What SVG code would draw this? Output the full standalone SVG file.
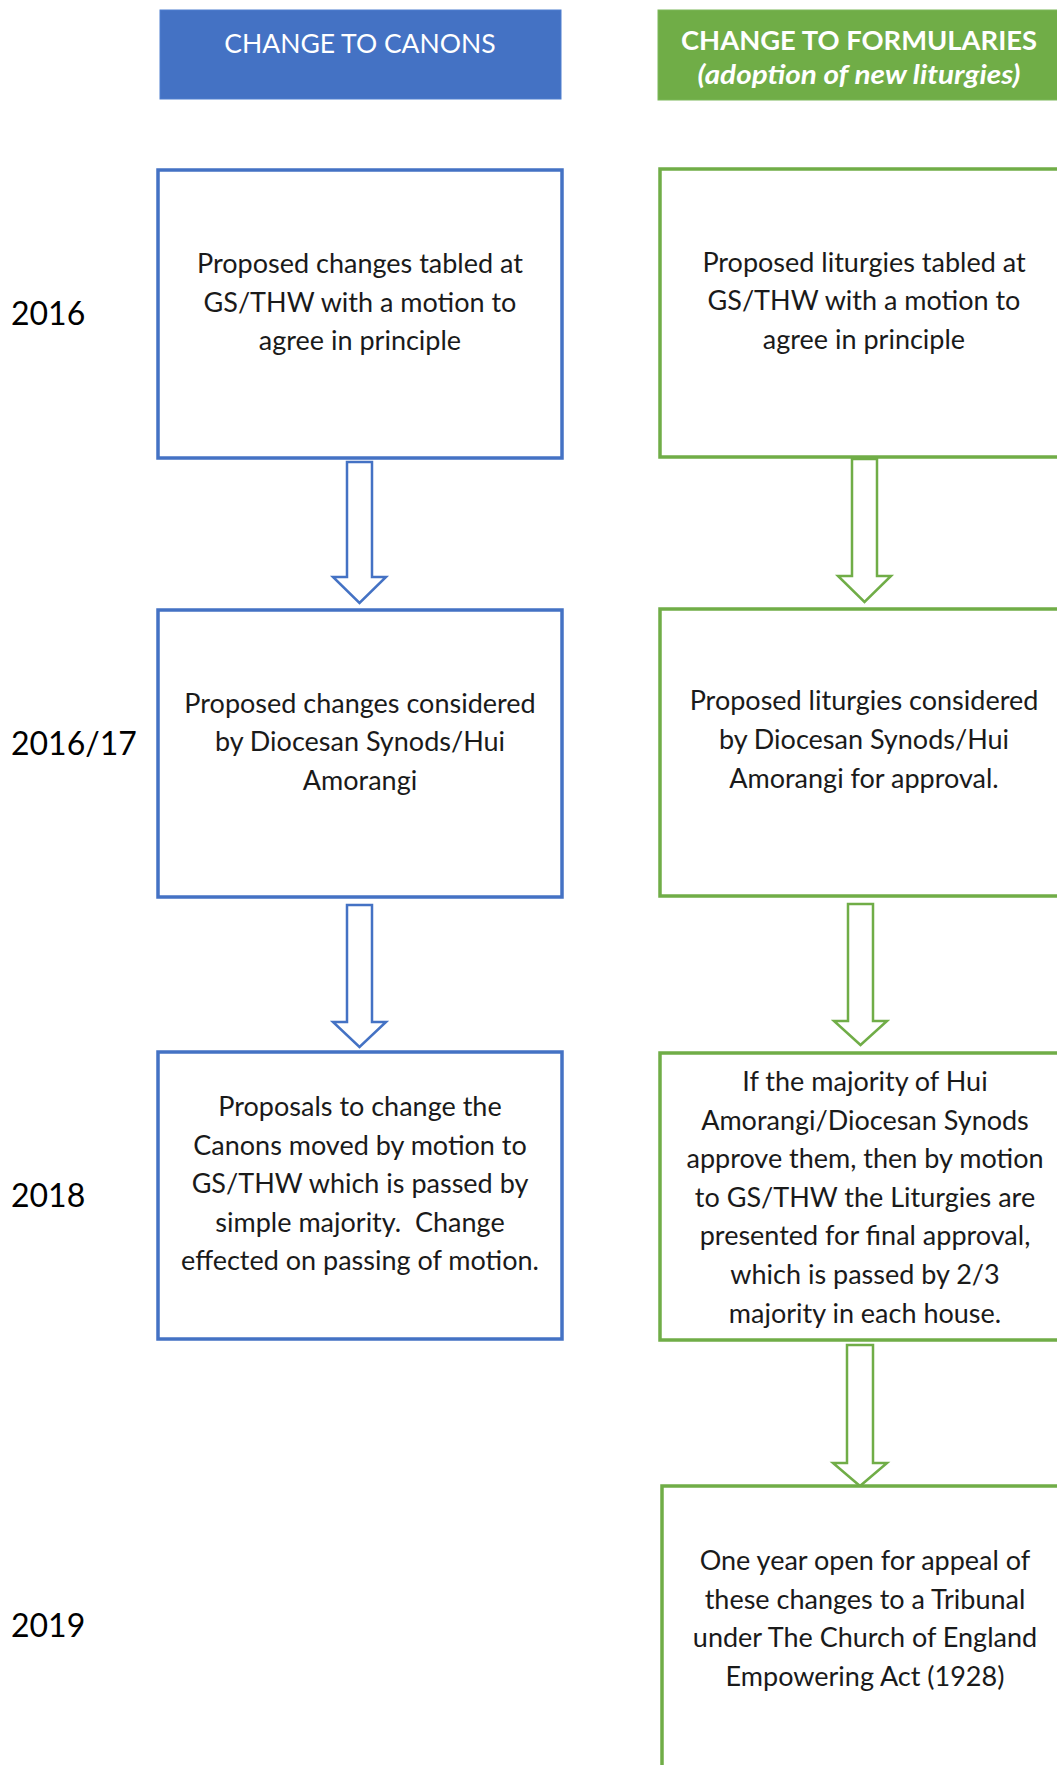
<svg xmlns="http://www.w3.org/2000/svg" width="1057" height="1765" viewBox="0 0 1057 1765">
<style>
.hdrB{fill:#4472C4;stroke:#4F7FCF;stroke-width:1}
.hdrG{fill:#70AD47;stroke:#7DB85A;stroke-width:1}
.htxt{font-family:Lato,"Open Sans",sans-serif;fill:#fff;text-anchor:middle}
.boxB{fill:#fff;stroke:#4472C4;stroke-width:3.5}
.boxG{fill:#fff;stroke:#70AD47;stroke-width:3.5}
.arrB{fill:#fff;stroke:#4472C4;stroke-width:2.5;stroke-linejoin:miter}
.arrG{fill:#fff;stroke:#70AD47;stroke-width:2.5;stroke-linejoin:miter}
.t{font-family:Lato,"Open Sans",sans-serif;font-size:27px;fill:#1a1a1a;text-anchor:middle}
.yr{font-family:Lato,"Open Sans",sans-serif;font-size:32px;fill:#000}
</style>
<g id="header-canons">
<rect class="hdrB" x="160" y="10" width="401" height="89"/>
<text class="htxt" x="360" y="53" font-size="26.5">CHANGE TO CANONS</text>
</g>
<g id="header-formularies">
<rect class="hdrG" x="658" y="10" width="401" height="90"/>
<text class="htxt" x="859" y="50" font-size="26" font-weight="bold" textLength="356" lengthAdjust="spacingAndGlyphs">CHANGE TO FORMULARIES</text>
<text class="htxt" x="859" y="84" font-size="27" font-weight="bold" font-style="italic" textLength="323" lengthAdjust="spacingAndGlyphs">(adoption of new liturgies)</text>
</g>
<g id="years">
<text class="yr" x="11" y="325">2016</text>
<text class="yr" x="11" y="755">2016/17</text>
<text class="yr" x="11" y="1207">2018</text>
<text class="yr" x="11" y="1637">2019</text>
</g>
<g id="connectors">
<path class="arrB" d="M347,462 H372 V577 H386 L359.5,603 L333,577 H347 Z"/>
<path class="arrB" d="M347,905 H372 V1022 H386 L359.5,1047 L333,1022 H347 Z"/>
<path class="arrG" d="M852,459 H877 V576 H891 L864.5,602 L838,576 H852 Z"/>
<path class="arrG" d="M848,904 H873 V1021 H887 L860.5,1045 L834,1021 H848 Z"/>
<path class="arrG" d="M847,1345 H873 V1463 H887 L860,1486 L833,1463 H847 Z"/>
</g>
<g id="canons-1">
<rect class="boxB" x="158" y="170" width="404" height="288"/>
<text class="t" x="360" y="273">Proposed changes tabled at</text>
<text class="t" x="360" y="312">GS/THW with a motion to</text>
<text class="t" x="360" y="350">agree in principle</text>
</g>
<g id="canons-2">
<rect class="boxB" x="158" y="610" width="404" height="287"/>
<text class="t" x="360" y="713">Proposed changes considered</text>
<text class="t" x="360" y="751">by Diocesan Synods/Hui</text>
<text class="t" x="360" y="790">Amorangi</text>
</g>
<g id="canons-3">
<rect class="boxB" x="158" y="1052" width="404" height="287"/>
<text class="t" x="360" y="1116">Proposals to change the</text>
<text class="t" x="360" y="1155">Canons moved by motion to</text>
<text class="t" x="360" y="1193">GS/THW which is passed by</text>
<text class="t" x="360" y="1232" xml:space="preserve">simple majority.  Change</text>
<text class="t" x="360" y="1270">effected on passing of motion.</text>
</g>
<g id="formularies-1">
<rect class="boxG" x="660" y="169" width="408" height="288"/>
<text class="t" x="864" y="272">Proposed liturgies tabled at</text>
<text class="t" x="864" y="310">GS/THW with a motion to</text>
<text class="t" x="864" y="349">agree in principle</text>
</g>
<g id="formularies-2">
<rect class="boxG" x="660" y="609" width="408" height="287"/>
<text class="t" x="864" y="710">Proposed liturgies considered</text>
<text class="t" x="864" y="749">by Diocesan Synods/Hui</text>
<text class="t" x="864" y="788">Amorangi for approval.</text>
</g>
<g id="formularies-3">
<rect class="boxG" x="660" y="1053" width="408" height="287"/>
<text class="t" x="865" y="1091">If the majority of Hui</text>
<text class="t" x="865" y="1130">Amorangi/Diocesan Synods</text>
<text class="t" x="865" y="1168">approve them, then by motion</text>
<text class="t" x="865" y="1207">to GS/THW the Liturgies are</text>
<text class="t" x="865" y="1245">presented for final approval,</text>
<text class="t" x="865" y="1284">which is passed by 2/3</text>
<text class="t" x="865" y="1323">majority in each house.</text>
</g>
<g id="formularies-4">
<rect class="boxG" x="662" y="1486" width="408" height="300"/>
<text class="t" x="865" y="1570">One year open for appeal of</text>
<text class="t" x="865" y="1609">these changes to a Tribunal</text>
<text class="t" x="865" y="1647">under The Church of England</text>
<text class="t" x="865" y="1686">Empowering Act (1928)</text>
</g>
</svg>
